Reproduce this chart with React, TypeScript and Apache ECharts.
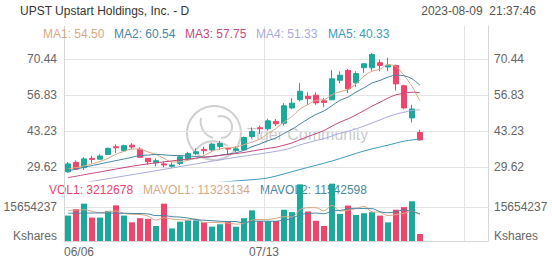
import React, { useEffect, useRef } from 'react';
import * as echarts from 'echarts';

// ---------- data ----------
const dates = [
  '06/06', '06/07', '06/08', '06/09', '06/12', '06/13', '06/14', '06/15', '06/16', '06/20',
  '06/21', '06/22', '06/23', '06/26', '06/27', '06/28', '06/29', '06/30', '07/03', '07/05',
  '07/06', '07/07', '07/10', '07/11', '07/12', '07/13', '07/14', '07/17', '07/18', '07/19',
  '07/20', '07/21', '07/24', '07/25', '07/26', '07/27', '07/28', '07/31', '08/01', '08/02',
  '08/03', '08/04', '08/07', '08/08', '08/09',
];
const opens = [27.9, 31.5, 29.5, 33.0, 32.7, 34.5, 37.4, 35.9, 38.0, 36.5, 33.0, 31.3, 30.9, 30.0, 31.1, 32.7, 34.8, 36.4, 36.2, 37.5, 36.8, 36.0, 36.2, 41.3, 44.6, 44.2, 47.0, 46.3, 52.1, 55.2, 56.5, 56.9, 54.8, 55.2, 62.6, 66.3, 61.6, 67.3, 67.3, 69.2, 67.6, 68.2, 60.5, 48.3, 42.8];
const closes = [30.9, 28.9, 32.8, 32.6, 33.9, 36.8, 37.0, 37.8, 37.3, 33.4, 31.7, 32.1, 30.5, 30.5, 33.6, 34.8, 35.5, 35.9, 38.4, 38.6, 36.5, 36.6, 40.9, 43.2, 44.2, 47.2, 46.1, 52.9, 53.9, 58.4, 55.6, 54.0, 54.2, 63.1, 64.5, 59.3, 65.1, 68.8, 72.3, 68.2, 68.3, 61.2, 52.1, 51.7, 40.0];
const lows = [27.5, 28.6, 28.6, 31.1, 32.5, 34.3, 35.0, 35.5, 36.4, 33.2, 30.6, 30.0, 29.6, 29.5, 30.5, 32.3, 34.2, 34.5, 35.7, 36.2, 34.3, 35.3, 35.8, 40.6, 42.2, 43.5, 45.2, 45.5, 51.6, 54.6, 53.3, 53.3, 52.4, 55.0, 61.4, 57.7, 60.0, 65.4, 66.2, 66.0, 66.0, 58.7, 51.6, 46.6, 39.7];
const highs = [31.6, 32.2, 33.5, 34.0, 34.6, 37.1, 38.3, 38.2, 38.8, 37.2, 33.2, 33.0, 31.8, 31.5, 34.2, 35.5, 36.8, 37.4, 38.9, 39.6, 36.9, 37.6, 41.3, 44.7, 45.4, 48.0, 47.9, 53.9, 55.8, 61.6, 58.0, 58.0, 55.9, 66.4, 65.9, 66.8, 66.0, 69.1, 72.8, 70.4, 71.1, 68.5, 60.9, 53.3, 43.9];
const volumes = [11700000, 14700000, 17200000, 10800000, 10800000, 13900000, 16400000, 11700000, 8600000, 10500000, 10200000, 6900000, 17200000, 5800000, 8900000, 9500000, 9500000, 8600000, 6600000, 7700000, 9200000, 6600000, 10500000, 14100000, 9200000, 9200000, 9200000, 14400000, 13300000, 26100000, 13600000, 9300000, 6900000, 26400000, 12500000, 16300000, 12000000, 12800000, 13300000, 11700000, 8600000, 14400000, 15600000, 18300000, 3212678];

// moving averages: early points as [index, value], later values per index
const ma1Early = [[0, 29.1], [1, 29.5], [2, 30.1], [3, 30.9]];
const ma1Start = 4;
const ma1 = [31.82, 33.0, 34.62, 35.62, 36.56, 36.46, 35.44, 34.46, 33.0, 31.64, 31.68, 32.3, 32.98, 34.06, 35.64, 36.64, 36.98, 37.2, 38.2, 39.16, 40.28, 42.42, 44.32, 46.72, 48.86, 51.7, 53.38, 54.96, 55.22, 57.06, 58.28, 59.02, 61.24, 64.16, 66.0, 66.74, 68.54, 67.76, 64.42, 60.3, 54.66];
const ma2Early = [[0, 28.3], [4, 30.9], [8, 33.4]];
const ma2Start = 9;
const ma2 = [34.14, 34.22, 34.54, 34.31, 34.1, 34.07, 33.87, 33.72, 33.53, 33.64, 34.16, 34.64, 35.09, 36.13, 37.4, 38.46, 39.7, 40.76, 42.46, 44.01, 45.99, 47.9, 49.64, 50.97, 52.96, 54.99, 56.2, 58.1, 59.69, 61.53, 62.51, 63.78, 64.5, 64.29, 63.15, 60.7];
const ma3Early = [[0, 25.7], [5, 28.4], [9, 30.5], [14, 32.4], [17, 33.4]];
const ma3Start = 19;
const ma3 = [34.15, 34.43, 34.82, 35.22, 35.75, 36.27, 36.79, 37.24, 38.0, 38.83, 40.08, 41.27, 42.37, 43.55, 45.18, 46.73, 47.95, 49.43, 51.08, 52.77, 54.25, 55.84, 57.07, 57.63, 58.06, 57.85];
const ma4Early = [[0, 22.6], [4, 24.8], [10, 27.8], [15, 30.4], [21, 33.4], [27, 36.2]];
const ma4Start = 29;
const ma4 = [38.1, 38.92, 39.76, 40.47, 41.49, 42.51, 43.26, 44.19, 45.23, 46.39, 47.55, 48.77, 49.74, 50.46, 51.17, 51.38];
const ma5Early = [[16, 23.2], [22, 24.7], [25, 25.6], [29, 28.8], [33, 32.0], [37, 35.8], [40, 38.0], [42, 39.5], [44, 40.33]];
const ma5Start = 45;
const ma5: number[] = [];

// volume moving averages, millions of shares
const mavol1Early = [[0, 14.0], [2, 14.4]];
const mavol1Start = 4;
const mavol1 = [13.04, 13.48, 13.82, 12.72, 12.28, 12.22, 11.48, 9.58, 10.68, 10.12, 9.8, 9.66, 10.18, 8.46, 8.62, 8.38, 8.32, 7.74, 8.12, 9.62, 9.92, 9.92, 10.44, 11.22, 11.06, 14.44, 15.32, 15.34, 13.84, 16.46, 13.74, 14.28, 14.82, 16.0, 13.38, 13.22, 11.68, 12.16, 12.72, 13.72, 12.02];
const mavol2Early = [[0, 12.8], [4, 12.9], [8, 12.7]];
const mavol2Start = 9;
const mavol2 = [12.63, 12.48, 11.7, 11.7, 11.2, 11.01, 10.57, 9.88, 9.57, 9.37, 9.09, 8.99, 8.96, 8.29, 9.12, 9.15, 9.12, 9.09, 9.67, 10.34, 12.18, 12.62, 12.89, 12.53, 13.76, 14.09, 14.8, 15.08, 14.92, 14.92, 13.48, 12.98, 13.49, 14.36, 13.55, 12.62];

const priceTickLabels = ['29.62', '43.23', '56.83', '70.44'];
const volTickLabels = ['Kshares', '15654237'];
const volTickValues = [0, 15654237];

const maNames = ['MA1', 'MA2', 'MA3', 'MA4', 'MA5'];
const maLast = ['54.50', '60.54', '57.75', '51.33', '40.33'];
const volNames = ['VOL1', 'MAVOL1', 'MAVOL2'];
const volLast = ['3212678', '11323134', '11542598'];

const title = 'UPST Upstart Holdings, Inc. - D';
const stamp = '2023-08-09  21:37:46';
const totalSlots = 53;

// ---------- styles ----------
const FONT = 'Arial, "Liberation Sans", Helvetica, sans-serif';
const UP = '#1aa99b';
const DOWN = '#f2436b';
const MA_COLORS = ['#d8a985', '#4a87a3', '#c64a82', '#aaaadc', '#3c9cb8'];
const VOL_COLORS = [DOWN, '#d8a985', '#4a87a3'];
const GRID_LINE = '#e3e3e3';
const AXIS_LINE = '#d6d6d6';
const LABEL = '#666';

function buildLine(early: number[][], start: number, vals: number[], scale = 1) {
  return [
    ...early.map(([i, v]) => [i, v * scale]),
    ...vals.map((v, k) => [start + k, v * scale]),
  ];
}

export default function App() {
  const ref = useRef<HTMLDivElement>(null);

  useEffect(() => {
    if (!ref.current) return;
    const chart = echarts.init(ref.current, null, { renderer: 'svg' });

    const cats = [...dates, ...Array(totalSlots - dates.length).fill('')];
    const labelCats = [...dates, ...Array(totalSlots + 1 - dates.length).fill('')];
    const candles = dates.map((_, i) => [opens[i], closes[i], lows[i], highs[i]]);
    const volData = volumes.map((v, i) => ({
      value: v,
      itemStyle: { color: closes[i] >= opens[i] ? UP : DOWN },
    }));
    const priceTickValues = priceTickLabels.map(Number);

    const maSets = [
      buildLine(ma1Early, ma1Start, ma1),
      buildLine(ma2Early, ma2Start, ma2),
      buildLine(ma3Early, ma3Start, ma3),
      buildLine(ma4Early, ma4Start, ma4),
      buildLine(ma5Early, ma5Start, ma5),
    ];
    const mavolSets = [
      buildLine(mavol1Early, mavol1Start, mavol1, 1e6),
      buildLine(mavol2Early, mavol2Start, mavol2, 1e6),
    ];

    const priceAxis = (pos: 'left' | 'right', split: boolean) => ({
      gridIndex: 0,
      type: 'value',
      position: pos,
      min: 24.43,
      max: 83.12,
      axisLine: { show: true, lineStyle: { color: AXIS_LINE } },
      axisTick: { show: false, customValues: priceTickValues },
      axisLabel: {
        customValues: priceTickValues,
        formatter: (v: number) => {
          const k = priceTickValues.findIndex((t) => Math.abs(t - v) < 1e-6);
          return k >= 0 ? priceTickLabels[k] : '';
        },
        color: LABEL,
        fontSize: 12,
        fontFamily: FONT,
        margin: pos === 'left' ? 7 : 6,
      },
      splitLine: { show: split, lineStyle: { color: GRID_LINE } },
    });

    const volAxis = (pos: 'left' | 'right', split: boolean) => ({
      gridIndex: 1,
      type: 'value',
      position: pos,
      min: 0,
      max: 27630000,
      axisLine: { show: true, lineStyle: { color: AXIS_LINE } },
      axisTick: { show: false, customValues: volTickValues },
      axisLabel: {
        customValues: volTickValues,
        formatter: (v: number) => {
          const k = volTickValues.indexOf(v);
          if (k === 0) return '{k|' + volTickLabels[0] + '}';
          return k > 0 ? volTickLabels[k] : '';
        },
        rich: { k: { padding: [0, 0, 10, 0], color: LABEL, fontSize: 12, fontFamily: FONT } },
        color: LABEL,
        fontSize: 12,
        fontFamily: FONT,
        margin: pos === 'left' ? 7 : 6,
      },
      splitLine: { show: split, lineStyle: { color: GRID_LINE } },
    });

    const textEl = (text: string, x: number, y: number, color: string, align = 'left', z = 10, size = 12) => ({
      type: 'text',
      x,
      y,
      z,
      silent: true,
      style: { text, fill: color, fontSize: size, fontFamily: FONT, align, verticalAlign: 'middle' },
    });

    const maX = [43, 114, 185, 256, 328];
    const volX = [49, 143, 260];
    const wmStroke = 'rgba(150,150,150,0.45)';

    const option: any = {
      animation: false,
      backgroundColor: '#fff',
      grid: [
        { left: 64, top: 26, width: 424, height: 155 },
        { left: 64, top: 181, width: 424, height: 60 },
        { left: 64, top: 181, width: 424, height: 60 },
      ],
      xAxis: [
        {
          gridIndex: 0, type: 'category', data: cats, boundaryGap: true,
          axisLine: { show: false }, axisTick: { show: false }, axisLabel: { show: false },
          splitLine: { show: true, interval: 24, lineStyle: { color: GRID_LINE } },
        },
        {
          gridIndex: 1, type: 'category', data: cats, boundaryGap: true,
          axisLine: { show: true, lineStyle: { color: AXIS_LINE } }, axisTick: { show: false }, axisLabel: { show: false },
          splitLine: { show: true, interval: 24, lineStyle: { color: GRID_LINE } },
        },
        {
          gridIndex: 2, type: 'category', data: labelCats, boundaryGap: false,
          axisLine: { show: false }, axisTick: { show: false }, splitLine: { show: false },
          axisLabel: { interval: 24, alignMinLabel: 'left', color: LABEL, fontSize: 12, fontFamily: FONT, margin: 5 },
        },
      ],
      yAxis: [
        priceAxis('left', true),
        priceAxis('right', false),
        volAxis('left', true),
        volAxis('right', false),
        { gridIndex: 2, type: 'value', show: false },
      ],
      series: [
        {
          type: 'candlestick',
          xAxisIndex: 0,
          yAxisIndex: 0,
          data: candles,
          barWidth: 6,
          itemStyle: { color: UP, color0: DOWN, borderColor: UP, borderColor0: DOWN, borderWidth: 1 },
          z: 3,
        },
        ...maSets.map((d, k) => ({
          type: 'line',
          xAxisIndex: 0,
          yAxisIndex: 0,
          data: d,
          symbol: 'none',
          smooth: 0.3,
          clip: true,
          lineStyle: { color: MA_COLORS[k], width: 1 },
          z: 4,
        })),
        {
          type: 'bar',
          xAxisIndex: 1,
          yAxisIndex: 2,
          data: volData,
          barWidth: 6,
          z: 3,
        },
        ...mavolSets.map((d, k) => ({
          type: 'line',
          xAxisIndex: 1,
          yAxisIndex: 2,
          data: d,
          symbol: 'none',
          smooth: 0.3,
          lineStyle: { color: VOL_COLORS[k + 1], width: 1 },
          z: 4,
        })),
      ],
      graphic: {
        elements: [
          textEl(title, 20, 11, '#333'),
          textEl(stamp, 536, 11, '#555', 'right'),
          ...maNames.map((n, k) => textEl(n + ': ' + maLast[k], maX[k], 34, MA_COLORS[k])),
          ...volNames.map((n, k) => textEl(n + ': ' + volLast[k], volX[k], 190, VOL_COLORS[k], 'left', 0)),
          { type: 'circle', z: 0, silent: true, shape: { cx: 214, cy: 133, r: 27 }, style: { fill: 'none', stroke: wmStroke, lineWidth: 2 } },
          { type: 'arc', z: 0, silent: true, shape: { cx: 221, cy: 127, r: 11, startAngle: -Math.PI * 0.6, endAngle: Math.PI * 0.5, clockwise: true }, style: { fill: 'none', stroke: wmStroke, lineWidth: 2 } },
          { type: 'bezierCurve', z: 0, silent: true, shape: { x1: 196, y1: 150, x2: 228, y2: 146, cpx1: 205, cpy1: 138, cpx2: 218, cpy2: 140 }, style: { fill: 'none', stroke: wmStroke, lineWidth: 2 } },
          { type: 'bezierCurve', z: 0, silent: true, shape: { x1: 201, y1: 118, x2: 213, y2: 138, cpx1: 199, cpy1: 128, cpx2: 206, cpy2: 136 }, style: { fill: 'none', stroke: wmStroke, lineWidth: 2 } },
          textEl('Tiger Community', 247, 134, 'rgba(150,150,150,0.5)', 'left', 0, 16),
        ],
      },
    };

    chart.setOption(option);
    return () => chart.dispose();
  }, []);

  return (
    <div
      ref={ref}
      style={{ position: 'fixed', left: 0, top: 0, width: 552, height: 265, background: '#fff' }}
    />
  );
}
